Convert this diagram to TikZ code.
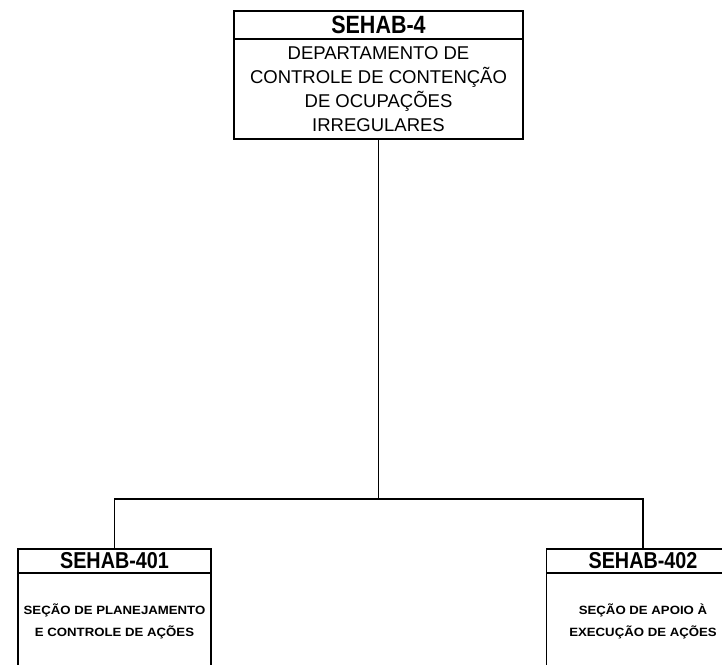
\documentclass[tikz,border=0pt]{standalone}
\usepackage{fontspec}
\setmainfont{Liberation Sans}
\newfontfamily\headfont[FakeStretch=0.86]{Liberation Sans}
\newfontfamily\tinyfont[FakeStretch=1.1]{Liberation Sans}

\begin{document}
\begin{tikzpicture}[x=1pt, y=-1pt, line width=1.6pt,
    unitbox/.style={draw, rectangle, inner sep=0pt, align=center},
    tophead/.style={unitbox, minimum width=289pt, minimum height=28pt,
      font=\headfont\bfseries\fontsize{25}{25}\selectfont},
    topbody/.style={unitbox, minimum width=289pt, minimum height=100pt,
      font=\fontsize{18.5}{24}\selectfont},
    subhead/.style={unitbox, minimum width=193pt, minimum height=24pt,
      font=\headfont\bfseries\fontsize{23}{23}\selectfont},
    subbody/.style={unitbox, minimum width=193pt, minimum height=96pt,
      font=\tinyfont\bfseries\fontsize{12}{22}\selectfont}]
  \useasboundingbox (0,0) rectangle (722,664);
  \clip (0,0) rectangle (722,664);

  % departamento
  \node[tophead] (hd4) at (378.5,25) {SEHAB-4};
  \node[topbody] (dep4) at (378.5,89) {DEPARTAMENTO DE\\CONTROLE DE CONTENÇÃO\\DE OCUPAÇÕES\\IRREGULARES};

  % secoes
  \node[subhead] (hd401) at (114.5,561) {SEHAB-401};
  \node[subbody] (sec401) at (114.5,621) {SEÇÃO DE PLANEJAMENTO\\E CONTROLE DE AÇÕES};
  \node[subhead] (hd402) at (643,561) {SEHAB-402};
  \node[subbody] (sec402) at (643,621) {SEÇÃO DE APOIO À\\EXECUÇÃO DE AÇÕES};

  \coordinate (jn) at (378.5,499);
  \draw (dep4.south) -- (jn);
  \draw (hd401.north) |- (jn) -| (hd402.north);
\end{tikzpicture}
\end{document}
